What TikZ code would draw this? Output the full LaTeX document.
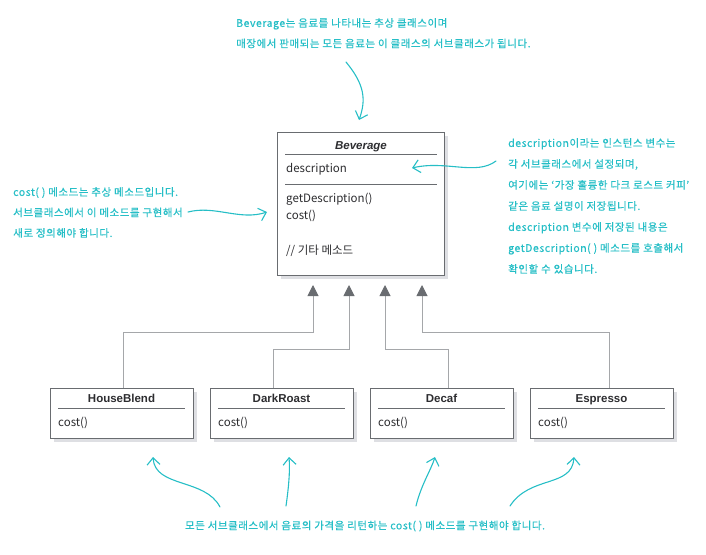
\documentclass[tikz,border=0pt]{standalone}
\usepackage{fontspec}
\setmainfont{Noto Sans CJK KR}
\newfontfamily\umlfont{Liberation Sans}
\newfontfamily\memofont[LetterSpace=5,FakeBold=0.5]{Noto Sans CJK KR}
\usetikzlibrary{arrows.meta,positioning}

\definecolor{boxgray}{RGB}{105,108,112}
\definecolor{linkgray}{RGB}{165,167,170}
\definecolor{shadowgray}{RGB}{222,223,227}
\definecolor{textgray}{RGB}{45,45,48}
\definecolor{memo}{RGB}{38,190,198}

\begin{document}
\begin{tikzpicture}[x=1pt,y=-1pt]

      %styles for boxes, texts and notes
      \tikzset{
      classbox/.style={draw=boxgray, line width=1.2pt, fill=white, inner sep=0pt, anchor=north west},
      boxshadow/.style={fill=shadowgray, draw=none},
      classname/.style={font=\umlfont\bfseries\fontsize{11.5}{13}\selectfont, text=textgray, inner sep=0pt, anchor=base},
      member/.style={font=\fontsize{11.5}{13}\selectfont, text=textgray, anchor=base west, inner sep=0pt},
      divider/.style={draw=boxgray, line width=1pt},
      inherit/.style={draw=linkgray, line width=1pt, -{Triangle[length=11pt,width=11pt,fill=boxgray,color=boxgray]}},
      memotext/.style={font=\memofont\fontsize{10.5}{20.5}\selectfont, text=memo, inner sep=0pt, align=left, anchor=north west},
      memoarrow/.style={draw=memo, line width=1.1pt, line cap=round, -{Straight Barb[length=7pt,width=13pt,line width=1.1pt]}},
      }

      \useasboundingbox (0,0) rectangle (706,554);

      %superclass
      \fill[boxshadow] (281,136) rectangle (448,279);
      \node[classbox, minimum width=167pt, minimum height=143pt] (bev) at (277,132) {};
      \node[classname, font=\umlfont\bfseries\itshape\fontsize{11.5}{13}\selectfont] (bevname) at (361,149) {Beverage};
      \draw[divider] (285,154) -- (437,154);
      \node[member] (bevdesc) at (286,172) {description};
      \draw[divider] (285,184) -- (437,184);
      \node[member] (bevget) at (286,202) {getDescription()};
      \node[member] (bevcost) at (286,219) {cost()};
      \node[member] (bevetc) at (286,254) {// 기타 메소드};

      %subclass#1
      \fill[boxshadow] (54,392) rectangle (197,442);
      \node[classbox, minimum width=143pt, minimum height=50pt] (hb) at (50,388) {};
      \node[classname] (hbname) at (121.5,402) {HouseBlend};
      \draw[divider] (58,408) -- (185,408);
      \node[member] (hbcost) at (58,426) {cost()};

      %subclass#2
      \fill[boxshadow] (214,392) rectangle (357,442);
      \node[classbox, minimum width=143pt, minimum height=50pt] (dr) at (210,388) {};
      \node[classname] (drname) at (281.5,402) {DarkRoast};
      \draw[divider] (218,408) -- (345,408);
      \node[member] (drcost) at (218,426) {cost()};

      %subclass#3
      \fill[boxshadow] (374,392) rectangle (517,442);
      \node[classbox, minimum width=143pt, minimum height=50pt] (dc) at (370,388) {};
      \node[classname] (dcname) at (441.5,402) {Decaf};
      \draw[divider] (378,408) -- (505,408);
      \node[member] (dccost) at (378,426) {cost()};

      %subclass#4
      \fill[boxshadow] (534,392) rectangle (677,442);
      \node[classbox, minimum width=143pt, minimum height=50pt] (es) at (530,388) {};
      \node[classname] (esname) at (601.5,402) {Espresso};
      \draw[divider] (538,408) -- (665,408);
      \node[member] (escost) at (538,426) {cost()};

      %inheritance links
      \coordinate (t1) at (313,285);
      \coordinate (t2) at (349,285);
      \coordinate (t3) at (385,285);
      \coordinate (t4) at (422,285);
      \coordinate (k1) at (313,332);
      \coordinate (k2) at (349,349);
      \coordinate (k3) at (385,349);
      \coordinate (k4) at (422,332);
      \draw[inherit] ([xshift=1.5pt]hb.north) |- (k1) -- (t1);
      \draw[inherit] ([xshift=-8.5pt]dr.north) |- (k2) -- (t2);
      \draw[inherit] ([xshift=6pt]dc.north) |- (k3) -- (t3);
      \draw[inherit] ([xshift=7.5pt]es.north) |- (k4) -- (t4);

      %note on top
      \node[memotext] (topnote) at (236,18) {Beverage는 음료를 나타내는 추상 클래스이며\\매장에서 판매되는 모든 음료는 이 클래스의 서브클래스가 됩니다.};
      \coordinate (topfrom) at (346,62);
      \coordinate (topto) at (359,120);
      \draw[memoarrow] (topfrom) .. controls (365,85) and (366,100) .. (topto);

      %note on the left
      \node[memotext] (leftnote) at (13,187) {cost( ) 메소드는 추상 메소드입니다.\\서브클래스에서 이 메소드를 구현해서\\새로 정의해야 합니다.};
      \coordinate (leftfrom) at (188,212);
      \coordinate (leftto) at (267,212);
      \draw[memoarrow] (leftfrom) .. controls (215,205) and (240,221) .. (leftto);

      %note on the right
      \node[memotext, font=\memofont\fontsize{10.5}{21}\selectfont] (rightnote) at (508,138) {description이라는 인스턴스 변수는\\각 서브클래스에서 설정되며,\\여기에는 ‘가장 훌륭한 다크 로스트 커피’\\같은 음료 설명이 저장됩니다.\\description 변수에 저장된 내용은\\getDescription( ) 메소드를 호출해서\\확인할 수 있습니다.};
      \coordinate (rightfrom) at (496,161);
      \coordinate (rightto) at (412,168);
      \draw[memoarrow] (rightfrom) .. controls (476,176) and (446,160) .. (rightto);

      %note at the bottom
      \node[memotext, anchor=center] (bottomnote) at (365,526) {모든 서브클래스에서 음료의 가격을 리턴하는 cost( ) 메소드를 구현해야 합니다.};
      \coordinate (b1) at (220,507);
      \coordinate (b2) at (286,506);
      \coordinate (b3) at (416,506);
      \coordinate (b4) at (510,506);
      \coordinate (e1) at (153,457);
      \coordinate (e2) at (289,457);
      \coordinate (e3) at (435,457);
      \coordinate (e4) at (574,457);
      \draw[memoarrow] (b1) .. controls (205,478) and (155,488) .. (e1);
      \draw[memoarrow] (b2) .. controls (289,485) and (290,470) .. (e2);
      \draw[memoarrow] (b3) .. controls (421,485) and (431,470) .. (e3);
      \draw[memoarrow] (b4) .. controls (530,475) and (572,488) .. (e4);
    \end{tikzpicture}
\end{document}
